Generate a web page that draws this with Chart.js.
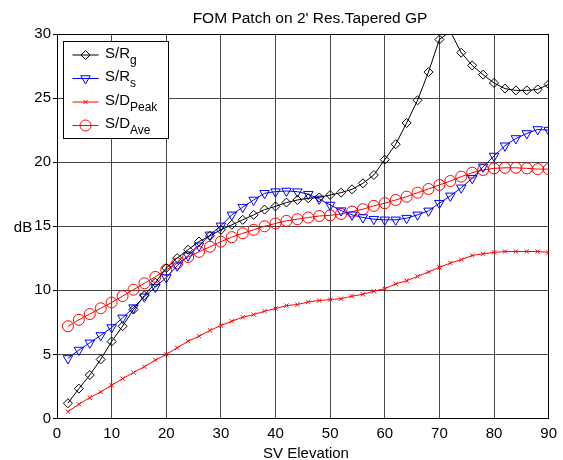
<!DOCTYPE html>
<html>
<head>
<meta charset="utf-8">
<script src="https://cdn.jsdelivr.net/npm/chart.js@4/dist/chart.umd.min.js"></script>
<style>
html,body{margin:0;padding:0;background:#fff}
#wrap{width:563px;height:460px}
</style>
</head>
<body>
<div id="wrap"><canvas id="c" width="563" height="460"></canvas></div>
<script>
// ---- data ----
const titleText = "FOM Patch on 2' Res.Tapered GP";
const xTitle = 'SV Elevation';
const yTitle = 'dB';
const elevation = [2,4,6,8,10,12,14,16,18,20,22,24,26,28,30,32,34,36,38,40,42,44,46,48,50,52,54,56,58,60,62,64,66,68,70,72,74,76,78,80,82,84,86,88,90];
const sRg = [1.19,2.33,3.39,4.61,6.01,7.2,8.5,9.6,10.6,11.74,12.52,13.17,13.81,14.25,14.72,15.11,15.5,15.89,16.3,16.55,16.85,17.05,17.18,17.25,17.44,17.62,17.88,18.35,19.0,20.2,21.4,23.06,24.83,27.03,29.57,30.2,28.54,27.55,26.83,26.18,25.74,25.6,25.6,25.68,26.07];
const sRs = [4.69,5.34,5.9,6.48,7.1,7.85,8.65,9.5,10.25,11.0,11.92,12.7,13.48,14.33,15.03,15.89,16.49,17.05,17.57,17.7,17.75,17.7,17.5,17.13,16.66,16.22,15.89,15.68,15.55,15.5,15.5,15.63,15.89,16.2,16.8,17.37,18.0,18.74,19.64,20.48,21.28,21.85,22.24,22.55,22.5];
const sDpeak = [0.54,1.11,1.63,2.07,2.59,3.11,3.58,4.04,4.56,5.0,5.52,6.03,6.42,6.87,7.26,7.59,7.9,8.11,8.37,8.58,8.81,8.89,9.1,9.2,9.28,9.35,9.54,9.69,9.93,10.13,10.5,10.75,11.09,11.43,11.79,12.13,12.39,12.72,12.85,12.96,13.03,13.03,13.03,13.03,12.96];
const sDave = [7.2,7.7,8.15,8.6,9.05,9.55,10.05,10.55,11.05,11.6,12.1,12.6,13.0,13.4,13.8,14.15,14.45,14.72,15.0,15.22,15.42,15.55,15.68,15.8,15.85,15.96,16.14,16.33,16.59,16.8,17.05,17.31,17.62,17.91,18.22,18.53,18.87,19.18,19.39,19.52,19.56,19.56,19.52,19.46,19.46];
const labelMain = ['S/R','S/R','S/D','S/D'];
const labelSub = ['g','s','Peak','Ave'];
const xTicksMin = 0, xTicksMax = 90, xStep = 10;
const yTicksMin = 0, yTicksMax = 30, yStep = 5;

// ---- styling ----
const FONT = '"Liberation Sans", Arial, Helvetica, sans-serif';
const GRID = 'rgba(0,0,0,0.72)';
const CLEAR = 'rgba(0,0,0,0)';
Chart.defaults.font.family = FONT;
Chart.defaults.color = '#000';

const series = [sRg, sRs, sDpeak, sDave];
const styles = [
  {color:'#000000', pointStyle:'rectRot', r:4.5, rot:0},
  {color:'#0000ff', pointStyle:'triangle', r:5.5, rot:180},
  {color:'#ff0000', pointStyle:'crossRot', r:3, rot:0},
  {color:'#ff0000', pointStyle:'circle', r:5.5, rot:0}
];

const datasets = series.map((vals, i) => {
  const st = styles[i];
  return {
    label: labelMain[i] + labelSub[i],
    data: elevation.map((x, k) => ({x: x, y: vals[k]})),
    borderColor: st.color,
    backgroundColor: CLEAR,
    borderWidth: 1,
    tension: 0,
    pointStyle: st.pointStyle,
    pointRotation: st.rot,
    pointRadius: c => (c.raw && c.raw.y > yTicksMax) ? 0 : st.r,
    pointBorderWidth: 1,
    pointBorderColor: st.color,
    pointBackgroundColor: CLEAR,
    clip: 0
  };
});

const overlay = {
  id: 'overlay',
  afterDraw(chart) {
    const ctx = chart.ctx;
    const a = chart.chartArea;
    ctx.save();
    // texts
    ctx.fillStyle = '#000';
    ctx.textBaseline = 'alphabetic';
    ctx.textAlign = 'center';
    ctx.font = '15.5px ' + FONT;
    ctx.fillText(titleText, 310, 23);
    ctx.font = '15px ' + FONT;
    ctx.fillText(xTitle, 306, 458);
    ctx.fillText(yTitle, 23, 231.5);

    // legend box
    const bx = 63.5, by = 41.5, bw = 105, bh = 97;
    ctx.fillStyle = '#fff';
    ctx.fillRect(bx, by, bw, bh);
    ctx.strokeStyle = '#000';
    ctx.lineWidth = 1;
    ctx.strokeRect(bx, by, bw, bh);
    chart.data.datasets.forEach((ds, i) => {
      const st = styles[i];
      const y = 55 + i * 23.5;
      ctx.strokeStyle = st.color;
      ctx.lineWidth = 1;
      ctx.beginPath();
      ctx.moveTo(72.5, y);
      ctx.lineTo(98.5, y);
      ctx.stroke();
      ctx.fillStyle = CLEAR;
      Chart.helpers.drawPoint(ctx, {pointStyle: st.pointStyle, radius: st.r, rotation: st.rot, borderWidth: 1}, 85.5, y);
      ctx.fillStyle = '#000';
      ctx.textAlign = 'left';
      ctx.font = '15px ' + FONT;
      ctx.fillText(labelMain[i], 105, y + 2.5);
      const w = ctx.measureText(labelMain[i]).width;
      ctx.font = '12px ' + FONT;
      ctx.fillText(labelSub[i], 105 + w, y + 8.5);
    });
    ctx.restore();
  }
};

new Chart(document.getElementById('c'), {
  type: 'line',
  data: {datasets: datasets},
  options: {
    responsive: false,
    animation: false,
    events: [],
    layout: {padding: {top: 34, right: 13, left: 0, bottom: 0}},
    plugins: {legend: {display: false}, title: {display: false}, tooltip: {enabled: false}},
    scales: {
      x: {
        type: 'linear', min: xTicksMin, max: xTicksMax,
        ticks: {stepSize: xStep, font: {size: 15}, color: '#000', padding: 6, maxRotation: 0, autoSkip: false},
        grid: {color: c => (c.tick && c.tick.value === xTicksMax) ? '#000' : GRID, lineWidth: 1, drawTicks: false},
        border: {display: true, color: '#000', width: 1},
        afterFit(s) { s.height = 41.5; }
      },
      y: {
        type: 'linear', min: yTicksMin, max: yTicksMax,
        ticks: {stepSize: yStep, font: {size: 15}, color: '#000', padding: 2},
        grid: {color: c => (c.tick && c.tick.value === yTicksMax) ? '#000' : GRID, lineWidth: 1, drawTicks: true, tickLength: 4, tickColor: '#000'},
        border: {display: true, color: '#000', width: 1},
        afterFit(s) { s.width = 57; }
      }
    }
  },
  plugins: [overlay]
});
</script>
</body>
</html>
